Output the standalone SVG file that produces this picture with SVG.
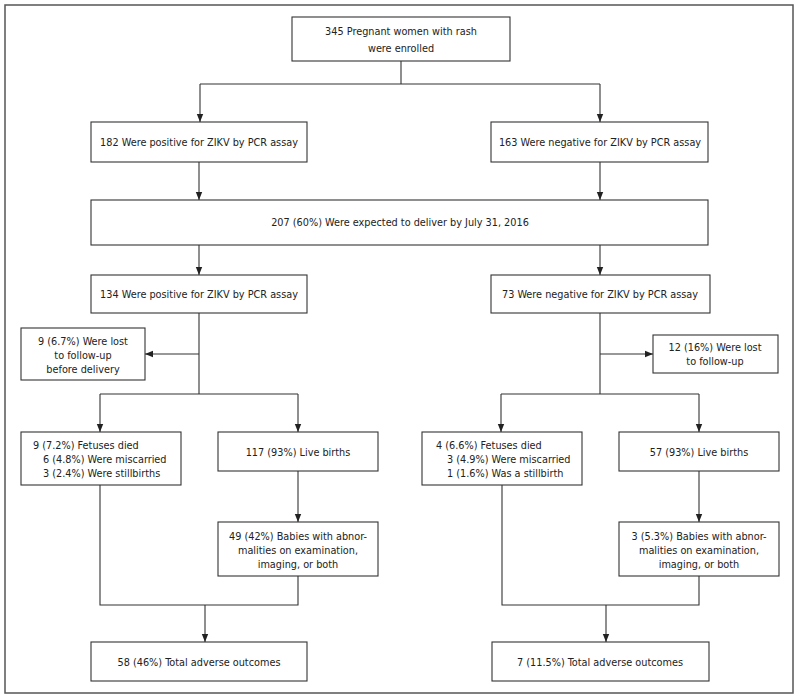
<svg xmlns="http://www.w3.org/2000/svg" width="800" height="700" viewBox="0 0 800 700">
<defs>
<marker id="ah" viewBox="0 0 10 10" refX="10" refY="5" markerWidth="8" markerHeight="9" markerUnits="userSpaceOnUse" orient="auto">
<path d="M0,1 L10,5 L0,9 Z" fill="#222"/>
</marker>
<style>
.box{fill:#fff;stroke:#333;stroke-width:1.1}
.ln{fill:none;stroke:#333;stroke-width:1.1}
.ar{fill:none;stroke:#333;stroke-width:1.1;marker-end:url(#ah)}
text{font-family:"DejaVu Sans Condensed","DejaVu Sans",sans-serif;font-stretch:condensed;font-size:10.8px;fill:#222}
.c{text-anchor:middle}
</style>
</defs>
<rect x="0" y="0" width="800" height="700" fill="#fff"/>
<rect x="5" y="5" width="788" height="688" fill="none" stroke="#555" stroke-width="1.5"/>
<g id="connectors">
<path class="ln" d="M401,61 V84 M200,84 H600"/>
<path class="ar" d="M200,84 V122"/>
<path class="ar" d="M600,84 V122"/>
<path class="ar" d="M199,162 V200"/>
<path class="ar" d="M600,162 V200"/>
<path class="ar" d="M199,245 V275"/>
<path class="ar" d="M600,245 V275"/>
<path class="ln" d="M199,313 V394 M100,394 H298"/>
<path class="ar" d="M199,354 H145"/>
<path class="ar" d="M100,394 V432"/>
<path class="ar" d="M298,394 V432"/>
<path class="ln" d="M600,313 V394 M501,394 H699"/>
<path class="ar" d="M600,354 H653"/>
<path class="ar" d="M501,394 V432"/>
<path class="ar" d="M699,394 V432"/>
<path class="ar" d="M298,471 V522"/>
<path class="ar" d="M699,471 V522"/>
<path class="ln" d="M100,485 V605 H298 V576"/>
<path class="ln" d="M502,485 V605 H699 V576"/>
<path class="ar" d="M205,605 V642"/>
<path class="ar" d="M606,605 V642"/>
</g>
<g id="n-enrolled"><rect class="box" x="292" y="17" width="218" height="44"/><text class="c" x="401" y="35">345 Pregnant women with rash</text><text class="c" x="401" y="52">were enrolled</text></g>
<g id="n-pos182"><rect class="box" x="91" y="122" width="216" height="40"/><text class="c" x="199" y="146">182 Were positive for ZIKV by PCR assay</text></g>
<g id="n-neg163"><rect class="box" x="491" y="122" width="217" height="40"/><text class="c" x="600" y="146">163 Were negative for ZIKV by PCR assay</text></g>
<g id="n-exp207"><rect class="box" x="91" y="200" width="617" height="45"/><text class="c" x="400" y="226">207 (60%) Were expected to deliver by July 31, 2016</text></g>
<g id="n-pos134"><rect class="box" x="91" y="275" width="216" height="38"/><text class="c" x="199" y="298">134 Were positive for ZIKV by PCR assay</text></g>
<g id="n-neg73"><rect class="box" x="491" y="275" width="219" height="38"/><text class="c" x="600" y="298">73 Were negative for ZIKV by PCR assay</text></g>
<g id="n-lostL"><rect class="box" x="21" y="328" width="124" height="52"/><text class="c" x="83" y="345">9 (6.7%) Were lost</text><text class="c" x="83" y="359">to follow-up</text><text class="c" x="83" y="373">before delivery</text></g>
<g id="n-lostR"><rect class="box" x="653" y="335" width="125" height="38"/><text class="c" x="715" y="351">12 (16%) Were lost</text><text class="c" x="715" y="365">to follow-up</text></g>
<g id="n-diedL"><rect class="box" x="21" y="432" width="160" height="53"/><text x="33" y="449">9 (7.2%) Fetuses died</text><text x="43" y="463">6 (4.8%) Were miscarried</text><text x="43" y="477">3 (2.4%) Were stillbirths</text></g>
<g id="n-liveL"><rect class="box" x="218" y="432" width="160" height="39"/><text class="c" x="298" y="456">117 (93%) Live births</text></g>
<g id="n-diedR"><rect class="box" x="422" y="432" width="160" height="53"/><text x="436" y="449">4 (6.6%) Fetuses died</text><text x="447" y="463">3 (4.9%) Were miscarried</text><text x="447" y="477">1 (1.6%) Was a stillbirth</text></g>
<g id="n-liveR"><rect class="box" x="619" y="432" width="160" height="39"/><text class="c" x="699" y="456">57 (93%) Live births</text></g>
<g id="n-abnL"><rect class="box" x="218" y="522" width="160" height="54"/><text class="c" x="298" y="540">49 (42%) Babies with abnor-</text><text class="c" x="298" y="554">malities on examination,</text><text class="c" x="298" y="568">imaging, or both</text></g>
<g id="n-abnR"><rect class="box" x="619" y="522" width="160" height="54"/><text class="c" x="699" y="540">3 (5.3%) Babies with abnor-</text><text class="c" x="699" y="554">malities on examination,</text><text class="c" x="699" y="568">imaging, or both</text></g>
<g id="n-totL"><rect class="box" x="91" y="642" width="216" height="39"/><text class="c" x="199" y="666">58 (46%) Total adverse outcomes</text></g>
<g id="n-totR"><rect class="box" x="492" y="642" width="217" height="39"/><text class="c" x="600" y="666">7 (11.5%) Total adverse outcomes</text></g>
</svg>
